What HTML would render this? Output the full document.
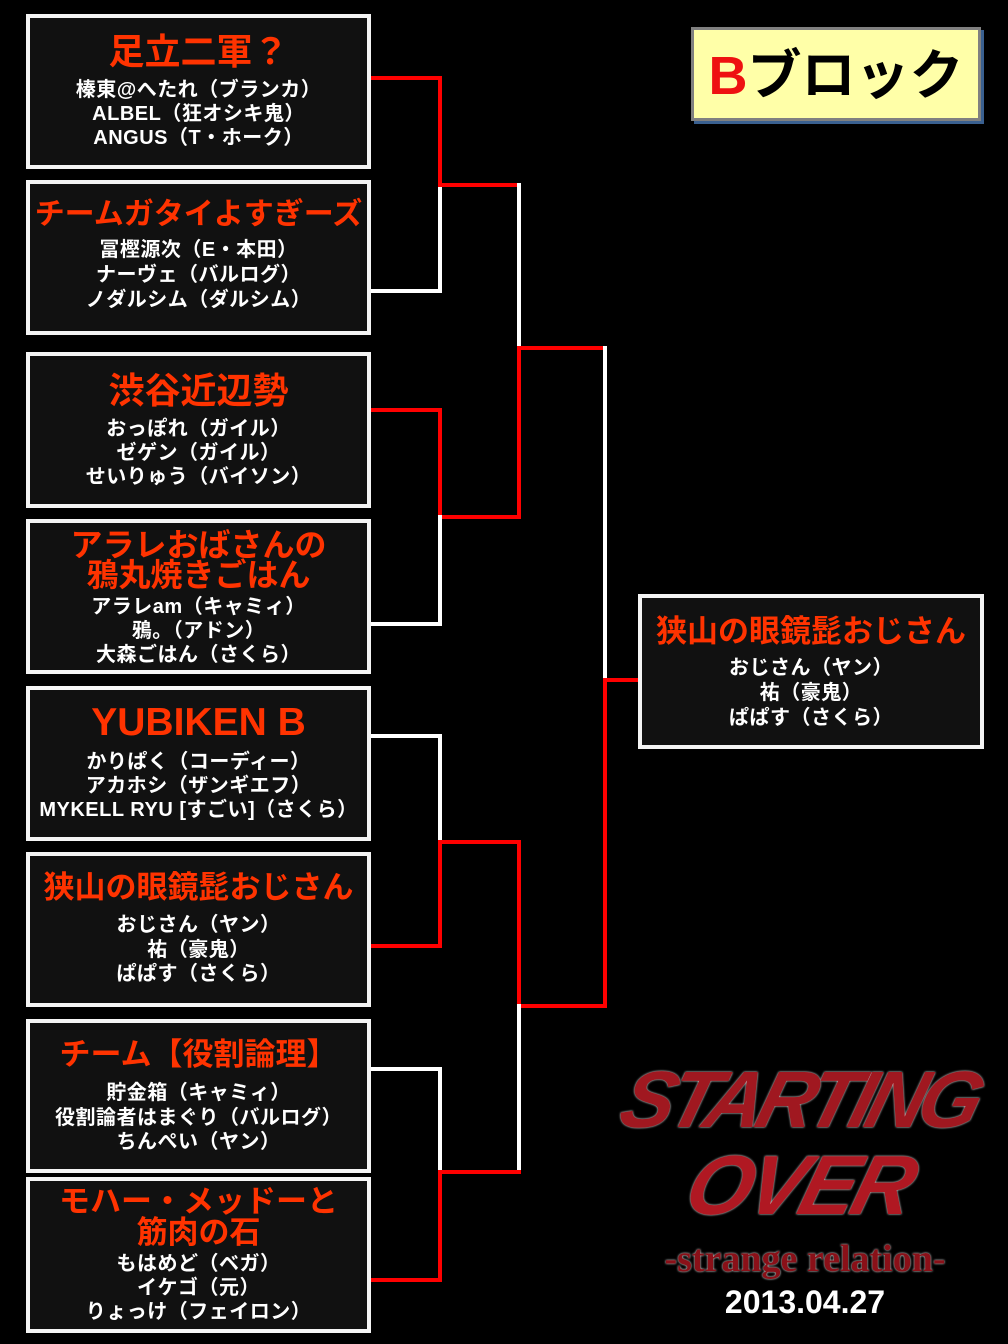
<!DOCTYPE html>
<html><head><meta charset="utf-8"><style>
body{margin:0;background:#000;width:1008px;height:1344px;overflow:hidden;position:relative;font-family:"Liberation Sans","Noto Sans CJK JP",sans-serif;font-weight:bold}
.b{position:absolute;background:#111;border:4px solid #f4f4f4;box-sizing:border-box}
.t{position:absolute;text-align:center;line-height:0;white-space:nowrap;color:#fff;font-size:20px;letter-spacing:0.5px;margin-top:2px}
.r{color:#ff3300;font-size:31px;letter-spacing:0;margin-top:0}
svg{position:absolute;left:0;top:0}
</style></head><body>
<svg width="1008" height="1344">
<g stroke-width="4" fill="none" stroke-linecap="square">
<path d="M370 78H440V185" stroke="#ff0000"/>
<path d="M370 291H440V185" stroke="#fff"/>
<path d="M440 185H519" stroke="#ff0000"/>
<path d="M519 185V348" stroke="#fff"/>
<path d="M370 410H440V517H519V348H605" stroke="#ff0000"/>
<path d="M370 624H440V517" stroke="#fff"/>
<path d="M605 348V680" stroke="#fff"/>
<path d="M605 680H638M605 680V1006H519" stroke="#ff0000"/>
<path d="M370 736H440V842" stroke="#fff"/>
<path d="M370 946H440V842H519V1006" stroke="#ff0000"/>
<path d="M519 1006V1172" stroke="#fff"/>
<path d="M370 1069H440V1172" stroke="#fff"/>
<path d="M370 1280H440V1172H519" stroke="#ff0000"/>
</g>
</svg>
<div class="b" style="left:26px;top:14px;width:345px;height:155px"></div>
<div class="b" style="left:26px;top:180px;width:345px;height:155px"></div>
<div class="b" style="left:26px;top:352px;width:345px;height:156px"></div>
<div class="b" style="left:26px;top:519px;width:345px;height:155px"></div>
<div class="b" style="left:26px;top:686px;width:345px;height:155px"></div>
<div class="b" style="left:26px;top:852px;width:345px;height:155px"></div>
<div class="b" style="left:26px;top:1019px;width:345px;height:154px"></div>
<div class="b" style="left:26px;top:1177px;width:345px;height:156px"></div>
<div class="b" style="left:638px;top:594px;width:346px;height:155px"></div>

<div style="position:absolute;left:694px;top:30px;width:290px;height:94px;background:#3a6090"></div>
<div style="position:absolute;left:691px;top:27px;width:290px;height:94px;box-sizing:border-box;border:3px solid #808080;background:#ffffa8"></div>
<div class="t" style="left:691px;width:290px;top:76px;font-size:54px;color:#000;margin-top:0;letter-spacing:0"><span style="color:#ee1111">B</span>ブロック</div>

<div class="t r" style="left:26px;width:345px;top:52px;font-size:36px">足立二軍？</div>
<div class="t" style="left:26px;width:345px;top:88px">榛東@へたれ（ブランカ）</div>
<div class="t" style="left:26px;width:345px;top:112px">ALBEL（狂オシキ鬼）</div>
<div class="t" style="left:26px;width:345px;top:136px">ANGUS（T・ホーク）</div>

<div class="t r" style="left:26px;width:345px;top:215px;font-size:30px">チームガタイよすぎーズ</div>
<div class="t" style="left:26px;width:345px;top:248px">冨樫源次（E・本田）</div>
<div class="t" style="left:26px;width:345px;top:273px">ナーヴェ（バルログ）</div>
<div class="t" style="left:26px;width:345px;top:298px">ノダルシム（ダルシム）</div>

<div class="t r" style="left:26px;width:345px;top:391px;font-size:36px">渋谷近辺勢</div>
<div class="t" style="left:26px;width:345px;top:427px">おっぽれ（ガイル）</div>
<div class="t" style="left:26px;width:345px;top:451px">ゼゲン（ガイル）</div>
<div class="t" style="left:26px;width:345px;top:475px">せいりゅう（バイソン）</div>

<div class="t r" style="left:26px;width:345px;top:545px;font-size:32px">アラレおばさんの</div>
<div class="t r" style="left:26px;width:345px;top:575px;font-size:32px">鴉丸焼きごはん</div>
<div class="t" style="left:26px;width:345px;top:605px">アラレam（キャミィ）</div>
<div class="t" style="left:26px;width:345px;top:629px">鴉。（アドン）</div>
<div class="t" style="left:26px;width:345px;top:653px">大森ごはん（さくら）</div>

<div class="t r" style="left:26px;width:345px;top:723px;font-size:39px">YUBIKEN B</div>
<div class="t" style="left:26px;width:345px;top:760px">かりぱく（コーディー）</div>
<div class="t" style="left:26px;width:345px;top:784px">アカホシ（ザンギエフ）</div>
<div class="t" style="left:26px;width:345px;top:808px">MYKELL RYU [すごい]（さくら）</div>

<div class="t r" style="left:26px;width:345px;top:888px">狭山の眼鏡髭おじさん</div>
<div class="t" style="left:26px;width:345px;top:923px">おじさん（ヤン）</div>
<div class="t" style="left:26px;width:345px;top:948px">祐（豪鬼）</div>
<div class="t" style="left:26px;width:345px;top:972px">ぱぱす（さくら）</div>

<div class="t r" style="left:26px;width:345px;top:1055px">チーム【役割論理】</div>
<div class="t" style="left:26px;width:345px;top:1091px">貯金箱（キャミィ）</div>
<div class="t" style="left:26px;width:345px;top:1116px">役割論者はまぐり（バルログ）</div>
<div class="t" style="left:26px;width:345px;top:1140px">ちんぺい（ヤン）</div>

<div class="t r" style="left:26px;width:345px;top:1202px">モハー・メッドーと</div>
<div class="t r" style="left:26px;width:345px;top:1233px">筋肉の石</div>
<div class="t" style="left:26px;width:345px;top:1262px">もはめど（ベガ）</div>
<div class="t" style="left:26px;width:345px;top:1286px">イケゴ（元）</div>
<div class="t" style="left:26px;width:345px;top:1310px">りょっけ（フェイロン）</div>

<div class="t r" style="left:638px;width:346px;top:632px">狭山の眼鏡髭おじさん</div>
<div class="t" style="left:638px;width:346px;top:666px">おじさん（ヤン）</div>
<div class="t" style="left:638px;width:346px;top:691px">祐（豪鬼）</div>
<div class="t" style="left:638px;width:346px;top:716px">ぱぱす（さくら）</div>

<div class="t" style="left:610px;width:380px;top:1100px;font-size:80px;font-style:italic;color:#a01820;letter-spacing:-6px;transform:skewX(-15deg);text-shadow:0 0 2px #fff;margin-top:0">STARTING</div>
<div class="t" style="left:640px;width:320px;top:1185px;font-size:84px;font-style:italic;color:#b01822;letter-spacing:-4px;transform:skewX(-15deg);text-shadow:0 0 2px #fff;margin-top:0">OVER</div>
<div class="t" style="left:620px;width:370px;top:1259px;font-size:38px;color:#8a1018;font-family:'Liberation Serif',serif;text-shadow:0 0 2px #fff;margin-top:0;letter-spacing:0">-strange relation-</div>
<div class="t" style="left:620px;width:370px;top:1302px;font-size:32px;color:#fff;margin-top:0;letter-spacing:0">2013.04.27</div>
</body></html>
